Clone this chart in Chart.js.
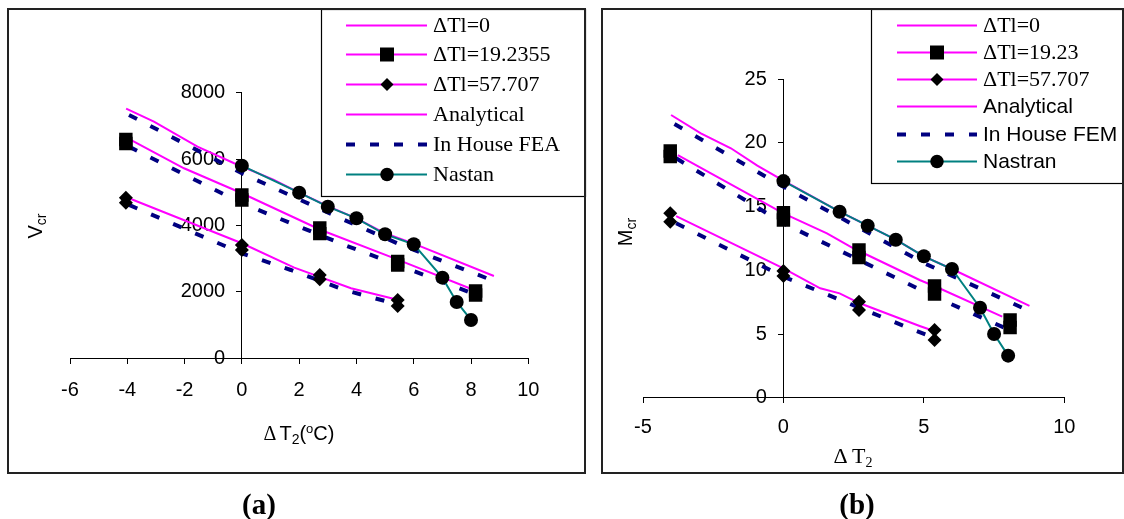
<!DOCTYPE html>
<html>
<head>
<meta charset="utf-8">
<script src="https://cdn.jsdelivr.net/npm/chart.js@4.4.1/dist/chart.umd.min.js"></script>
<style>
  html, body { margin: 0; padding: 0; background: #fff; }
  #page { position: relative; width: 1124px; height: 519px; overflow: hidden; font-family: "Liberation Sans", Arial, sans-serif; }
  canvas { position: absolute; top: 0; }
  .frame { position: absolute; border: 2px solid #222; box-sizing: border-box; pointer-events: none; }
  .lbl { position: absolute; white-space: nowrap; color: #000; }
  .serif { font-family: "Liberation Serif", "Times New Roman", serif; }
  .sb { font-size: 14px; position: relative; top: 4px; }
  .sp { font-size: 13px; position: relative; top: -7px; }
</style>
</head>
<body>
<div id="page">
  <canvas id="chartA" width="592" height="519" style="left:0"></canvas>
  <canvas id="chartB" width="532" height="519" style="left:592px"></canvas>

  <div class="frame" style="left:7px;top:8px;width:579px;height:466px"></div>
  <div class="frame" style="left:601px;top:8px;width:523px;height:466px"></div>

  <!-- axis titles -->
  <div class="lbl" style="left:229px;top:421px;width:140px;text-align:center;font-size:20px;line-height:24px"><span class="serif" style="margin-right:3px">Δ</span>T<span class="sb">2</span>(<span class="sp">o</span>C)</div>
  <div class="lbl serif" style="left:793px;top:443px;width:120px;text-align:center;font-size:22px;line-height:26px">Δ&thinsp;T<span class="sb">2</span></div>
  <div class="lbl" style="left:5px;top:214px;width:60px;height:24px;text-align:center;font-size:20px;line-height:24px;transform:rotate(-90deg)">V<span class="sb">cr</span></div>
  <div class="lbl" style="left:595px;top:220px;width:60px;height:24px;text-align:center;font-size:20px;line-height:24px;transform:rotate(-90deg)">M<span class="sb">cr</span></div>

  <!-- panel captions -->
  <div class="lbl serif" style="left:209px;top:486px;width:100px;text-align:center;font-size:29px;line-height:36px;font-weight:bold">(a)</div>
  <div class="lbl serif" style="left:807px;top:486px;width:100px;text-align:center;font-size:29px;line-height:36px;font-weight:bold">(b)</div>
</div>

<script>
// ---- Panel (a): Vcr vs dT2 ----
const A_TOP_X = [-4.04, -3.07, -1.55, -0.27, 1.1, 2, 3, 4, 5, 6, 8.8];
const A_TOP_Y = [7520, 7127, 6373, 5872, 5380, 4990, 4580, 4213, 3760, 3450, 2473];
const A_MID_X = [-3.88, -2.02, 0, 2.76, 5.33, 7.95];
const A_MID_Y = [6575, 5721, 4967, 3860, 3006, 2102];
const A_LOW_X = [-3.94, 0, 1.83, 3.81, 5.33];
const A_LOW_Y = [4816, 3459, 2724, 2102, 1780];

const A_FEA_TOP_X = [-3.94, 0, 3.58, 5.56, 7.07, 8.77];
const A_FEA_TOP_Y = [7330, 5570, 4162, 3408, 2904, 2332];
const A_FEA_MID_X = [-3.94, 0, 3.58, 6.37, 7.89];
const A_FEA_MID_Y = [6373, 4665, 3408, 2503, 2000];
const A_FEA_LOW_X = [-3.94, 0, 1.71, 3.58, 5.38];
const A_FEA_LOW_Y = [4615, 3158, 2654, 2051, 1629];

const A_SQ_X = [-4.05, 0, 2.72, 5.44, 8.16];
const A_SQ_Y1 = [6590, 4916, 3920, 2910, 2020];
const A_SQ_Y2 = [6470, 4765, 3750, 2805, 1900];
const A_DI_X = [-4.05, 0, 2.72, 5.44];
const A_DI_Y1 = [4830, 3408, 2503, 1749];
const A_DI_Y2 = [4680, 3257, 2373, 1568];

const A_NAS_X = [0, 2, 3, 4, 5, 6, 7, 7.5, 8];
const A_NAS_Y = [5800, 4986, 4563, 4213, 3730, 3428, 2423, 1689, 1146];

const A_LEGEND = ['ΔTl=0', 'ΔTl=19.2355', 'ΔTl=57.707', 'Analytical', 'In House FEA', 'Nastan'];

// ---- Panel (b): Mcr vs dT2 ----
const B_TOP_X = [-4.0, -2.94, -1.87, -0.93, 0, 2, 3, 4, 5, 6, 8.76];
const B_TOP_Y = [22.19, 20.75, 19.58, 18.21, 17.03, 14.6, 13.5, 12.4, 11.1, 10.1, 7.2];
const B_MID_X = [-3.76, 0, 1.55, 2.49, 4.85, 5.55, 7.79];
const B_MID_Y = [19.05, 14.47, 12.9, 11.73, 9.24, 8.59, 6.36];
const B_LOW_X = [-3.82, 0, 1.31, 2.0, 2.72, 4.85, 5.26];
const B_LOW_Y = [14.26, 10.15, 8.59, 8.19, 7.41, 5.63, 5.31];

const B_FEM_TOP_X = [-3.88, 0, 5.02, 8.76];
const B_FEM_TOP_Y = [21.48, 16.56, 10.55, 6.8];
const B_FEM_MID_X = [-3.82, 0, 5.38, 7.91];
const B_FEM_MID_Y = [18.79, 13.69, 7.93, 5.45];
const B_FEM_LOW_X = [-3.82, 0, 4.49, 5.26];
const B_FEM_LOW_Y = [13.69, 9.5, 5.45, 4.79];

const B_SQ_X = [-4.03, 0, 2.69, 5.38, 8.07];
const B_SQ_Y1 = [19.36, 14.52, 11.59, 8.77, 6.1];
const B_SQ_Y2 = [18.93, 13.95, 11.0, 8.14, 5.51];
const B_DI_X = [-4.03, 0, 2.69, 5.38];
const B_DI_Y1 = [14.47, 9.95, 7.54, 5.31];
const B_DI_Y2 = [13.82, 9.55, 6.88, 4.53];

const B_NAS_X = [0, 2, 3, 4, 5, 6, 7, 7.5, 8];
const B_NAS_Y = [17.0, 14.6, 13.5, 12.4, 11.1, 10.1, 7.06, 5.0, 3.3];

const B_LEGEND = ['ΔTl=0', 'ΔTl=19.23', 'ΔTl=57.707', 'Analytical', 'In House FEM', 'Nastran'];

const SANS = '"Liberation Sans", Arial, sans-serif';
const SERIF = '"Liberation Serif", "Times New Roman", serif';
const MAGENTA = '#FF00FF', NAVY = '#000080', TEAL = '#008080';
const DASH = [9, 15];

function pts(xs, ys) {
  return xs.map((x, i) => ({ x: x, y: ys[i] }));
}

function curve(xs, ys, color, width, dash) {
  return {
    data: pts(xs, ys), showLine: true, borderColor: color, borderWidth: width,
    borderDash: dash || [], pointRadius: 0, pointHoverRadius: 0, tension: 0
  };
}

function marks(xs, ys, style, r) {
  return {
    data: pts(xs, ys), showLine: false, pointStyle: style, pointRadius: r,
    pointBackgroundColor: '#000', pointBorderColor: '#000', pointBorderWidth: 0
  };
}

function nastran(xs, ys) {
  return {
    data: pts(xs, ys), showLine: true, borderColor: TEAL, borderWidth: 2, tension: 0,
    pointStyle: 'circle', pointRadius: 7, pointBackgroundColor: '#000',
    pointBorderColor: '#000', pointBorderWidth: 0
  };
}

// legend rows: line sample, optional marker, text
const LEGEND_STYLE = [
  { color: MAGENTA, width: 2 },
  { color: MAGENTA, width: 2, marker: 'rect' },
  { color: MAGENTA, width: 2, marker: 'diamond' },
  { color: MAGENTA, width: 2 },
  { color: NAVY, width: 4, dash: DASH },
  { color: TEAL, width: 2, marker: 'circle' }
];

function drawMarker(ctx, kind, x, y) {
  ctx.fillStyle = '#000';
  ctx.beginPath();
  if (kind === 'rect') ctx.rect(x - 7, y - 7, 14, 14);
  else if (kind === 'diamond') {
    ctx.moveTo(x - 6.5, y); ctx.lineTo(x, y - 6.5); ctx.lineTo(x + 6.5, y); ctx.lineTo(x, y + 6.5);
    ctx.closePath();
  } else ctx.arc(x, y, 6.7, 0, Math.PI * 2);
  ctx.fill();
}

function boxLegend(L) {
  return {
    id: 'boxLegend',
    afterDraw(chart) {
      const ctx = chart.ctx;
      ctx.save();
      ctx.fillStyle = '#fff';
      ctx.fillRect(L.x0, L.y0, L.x1 - L.x0, L.y1 - L.y0);
      ctx.strokeStyle = '#000';
      ctx.lineWidth = 1.2;
      ctx.strokeRect(L.x0 + 0.5, L.y0 + 0.5, L.x1 - L.x0, L.y1 - L.y0);
      L.labels.forEach((label, i) => {
        const s = LEGEND_STYLE[i];
        const y = Math.round(L.rowY + i * L.rowStep) + 0.5;
        ctx.beginPath();
        ctx.setLineDash(s.dash || []);
        ctx.lineWidth = s.width;
        ctx.strokeStyle = s.color;
        ctx.moveTo(L.lineX0, y);
        ctx.lineTo(L.lineX1, y);
        ctx.stroke();
        ctx.setLineDash([]);
        if (s.marker) drawMarker(ctx, s.marker, L.markX, y);
        ctx.fillStyle = '#000';
        ctx.font = L.fonts[i];
        ctx.textAlign = 'left';
        ctx.textBaseline = 'middle';
        ctx.fillText(label, L.textX, y + 1);
      });
      ctx.restore();
    }
  };
}

function makeChart(id, datasets, xr, yr, pad, xPad, legend) {
  return new Chart(document.getElementById(id), {
    type: 'scatter',
    data: { datasets: datasets },
    options: {
      responsive: false,
      animation: false,
      events: [],
      layout: { padding: pad },
      plugins: { legend: { display: false }, tooltip: { enabled: false } },
      scales: {
        x: {
          type: 'linear', position: { y: 0 }, min: xr[0], max: xr[1],
          ticks: {
            stepSize: xr[2], color: '#000', font: { family: SANS, size: 20 },
            padding: xPad, maxRotation: 0, autoSkip: false, callback: v => String(v)
          },
          grid: { drawOnChartArea: false, drawTicks: true, tickLength: 5, color: '#000' },
          border: { display: true, color: '#000', width: 1 }
        },
        y: {
          type: 'linear', position: { x: 0 }, min: yr[0], max: yr[1],
          ticks: {
            stepSize: yr[2], color: '#000', font: { family: SANS, size: 20 },
            callback: v => String(v) + '   '
          },
          grid: { drawOnChartArea: false, drawTicks: true, tickLength: 5, color: '#000' },
          border: { display: true, color: '#000', width: 1 }
        }
      }
    },
    plugins: [boxLegend(legend)]
  });
}

// markers first so they sit on top of the lines
makeChart('chartA', [
  marks(A_SQ_X, A_SQ_Y1, 'rect', 9.5),
  marks(A_SQ_X, A_SQ_Y2, 'rect', 9.5),
  marks(A_DI_X, A_DI_Y1, 'rectRot', 7),
  marks(A_DI_X, A_DI_Y2, 'rectRot', 7),
  nastran(A_NAS_X, A_NAS_Y),
  curve(A_TOP_X, A_TOP_Y, MAGENTA, 2),
  curve(A_MID_X, A_MID_Y, MAGENTA, 2),
  curve(A_LOW_X, A_LOW_Y, MAGENTA, 2),
  curve(A_FEA_TOP_X, A_FEA_TOP_Y, NAVY, 4, DASH),
  curve(A_FEA_MID_X, A_FEA_MID_Y, NAVY, 4, DASH),
  curve(A_FEA_LOW_X, A_FEA_LOW_Y, NAVY, 4, DASH)
], [-6, 10, 2], [0, 8000, 2000],
  { left: 70, right: 63.7, top: 92.7, bottom: 161 }, 15,
  {
    x0: 321, y0: 9, x1: 585, y1: 196, rowY: 24.5, rowStep: 29.8,
    lineX0: 346, lineX1: 427, markX: 387, textX: 433, labels: A_LEGEND,
    fonts: Array(6).fill('22px ' + SERIF)
  });

makeChart('chartB', [
  marks(B_SQ_X, B_SQ_Y1, 'rect', 9.5),
  marks(B_SQ_X, B_SQ_Y2, 'rect', 9.5),
  marks(B_DI_X, B_DI_Y1, 'rectRot', 7),
  marks(B_DI_X, B_DI_Y2, 'rectRot', 7),
  nastran(B_NAS_X, B_NAS_Y),
  curve(B_TOP_X, B_TOP_Y, MAGENTA, 2),
  curve(B_MID_X, B_MID_Y, MAGENTA, 2),
  curve(B_LOW_X, B_LOW_Y, MAGENTA, 2),
  curve(B_FEM_TOP_X, B_FEM_TOP_Y, NAVY, 4, DASH),
  curve(B_FEM_MID_X, B_FEM_MID_Y, NAVY, 4, DASH),
  curve(B_FEM_LOW_X, B_FEM_LOW_Y, NAVY, 4, DASH)
], [-5, 10, 5], [0, 25, 5],
  { left: 51, right: 59.7, top: 79.2, bottom: 121.3 }, 13,
  {
    x0: 279, y0: 9, x1: 531, y1: 183, rowY: 24.5, rowStep: 27.3,
    lineX0: 305, lineX1: 385, markX: 345, textX: 391, labels: B_LEGEND,
    fonts: ['22px ' + SERIF, '22px ' + SERIF, '22px ' + SERIF, '21px ' + SANS, '21px ' + SANS, '21px ' + SANS]
  });
</script>
</body>
</html>
